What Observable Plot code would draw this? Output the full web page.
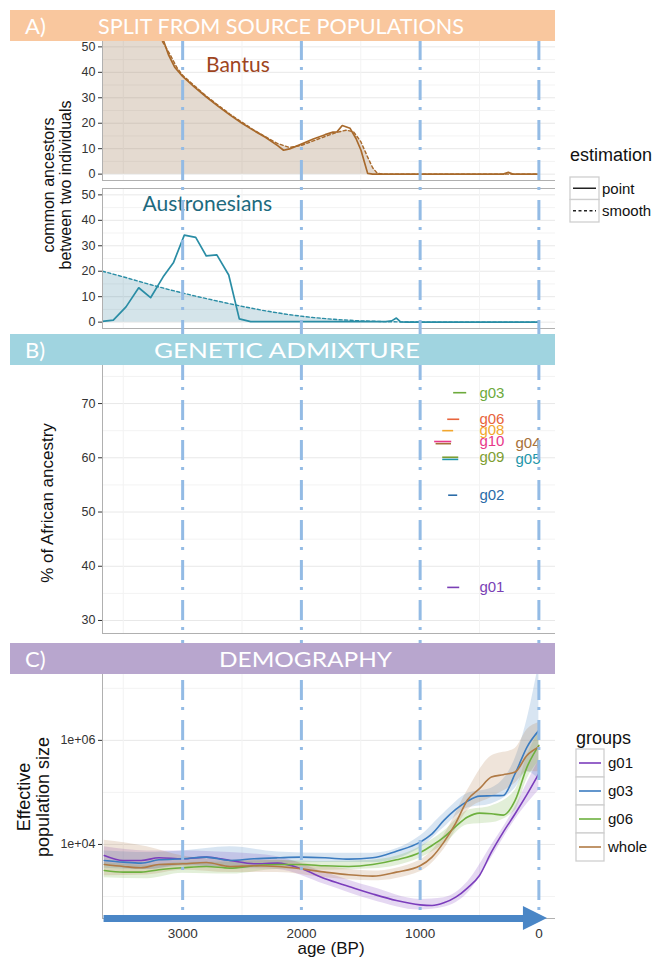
<!DOCTYPE html>
<html>
<head>
<meta charset="utf-8">
<script src="https://cdn.jsdelivr.net/npm/d3@7"></script>
<script src="https://cdn.jsdelivr.net/npm/@observablehq/plot@0.6"></script>
<style>
html,body{margin:0;padding:0;background:#fff;}
#fig{position:relative;width:661px;height:957px;overflow:hidden;background:#fff;}
</style>
</head>
<body>
<div id="fig"></div>
<script>
// ---------------- data ----------------
const xTicks = [3000, 2000, 1000, 0];
const xMinor = [3500, 2500, 1500, 500];
const countTicks = [0, 10, 20, 30, 40, 50];
const countMinor = [5, 15, 25, 35, 45];
const pctTicks = [30, 40, 50, 60, 70];
const pctMinor = [35, 45, 55, 65, 75];
const neTicks = [1e4, 1e6];
const neMinor = [1e3, 1e5, 1e7];

// A) Bantus
const bantusPointAge = [3675, 3400, 3200, 3160, 3120, 3067, 3000, 2900, 2800, 2700, 2600, 2500, 2400, 2300, 2200, 2150, 2100, 2000, 1900, 1800, 1734, 1700, 1656, 1590, 1540, 1498, 1442, 1400, 300, 257, 220, 0];
const bantusPoint    = [80, 66, 55.5, 52.3, 47, 42, 38.4, 34.2, 30.3, 26.6, 23.2, 20, 17.1, 14.4, 11.2, 9.4, 9.9, 11.8, 13.8, 15.5, 16.5, 16.6, 19.1, 18, 14, 9.4, 0.3, 0, 0, 0.7, 0, 0];
const bantusSmoothAge = [3675, 3300, 3150, 3100, 3050, 3000, 2800, 2600, 2400, 2200, 2100, 2000, 1800, 1700, 1620, 1560, 1500, 1440, 1400, 1360, 1300, 0];
const bantusSmooth    = [80, 62, 50.5, 46.5, 42, 38.8, 30.6, 23.5, 17.3, 12, 10.5, 11.3, 14.8, 16.4, 17.3, 16.6, 12.8, 6.5, 2.5, 0.3, 0, 0];
// A) Austronesians
const austroPointAge = [3675, 3584, 3477, 3370, 3270, 3164, 3078, 2986, 2890, 2801, 2712, 2612, 2523, 2427, 1290, 1240, 1200, 1165, 1100, 0];
const austroPoint    = [0.3, 0.8, 6, 13.5, 9.6, 17.8, 23.3, 34.2, 33.3, 26, 26.4, 18.5, 1.3, 0.2, 0.2, 0.5, 1.6, 0.1, 0, 0];
const austroSmoothAge = [3675, 3500, 3300, 3100, 2900, 2700, 2500, 2300, 2100, 1900, 1700, 1500, 1300, 1100, 900, 0];
const austroSmooth    = [20, 17.8, 15.1, 12.6, 10.3, 8.2, 6.2, 4.4, 2.9, 1.8, 1.0, 0.5, 0.2, 0.05, 0, 0];

// B) admixture (drawing order)
const admixGroup = ["g01", "g02", "g03", "g04", "g06", "g08", "g09", "g05", "g10"];
const admixPct   = [36.1, 53.1, 72.0, 62.6, 67.1, 65.0, 60.1, 59.7, 63.0];
const admixFrom  = [772, 764, 722, 870, 772, 814, 814, 814, 882];
const admixTo    = [671, 688, 612, 740, 671, 722, 679, 679, 738];
const admixLabelAge = [501, 501, 501, 197, 501, 501, 501, 197, 501];
const admixColor = ["#7A3FB5", "#2B6CA8", "#6DAA3C", "#A6713A", "#E8643C", "#F2A72E", "#7E9E32", "#1E96AA", "#E8388A"];
const admixLabelOrder = ["g08", "g01", "g02", "g03", "g04", "g09", "g05", "g06", "g10"];

// C) demography
const demoAge = [3660, 3500, 3350, 3200, 3000, 2800, 2600, 2400, 2200, 2000, 1800, 1600, 1400, 1200, 1000, 900, 800, 700, 600, 500, 400, 300, 200, 100, 0];
const neG01   = [6140, 4920, 4920, 5540, 5300, 5710, 4920, 4250, 4380, 3400, 2190, 1560, 1120, 838, 692, 671, 755, 971, 1470, 2540, 7120, 17300, 38900, 91500, 229000];
const neG03   = [4920, 4570, 4380, 5070, 5300, 5710, 4920, 5300, 5540, 5710, 5540, 5220, 5540, 7440, 11100, 16000, 29000, 47100, 68100, 85000, 86300, 87500, 229000, 745000, 1556000];
const neG06   = [3160, 2940, 2940, 3260, 3560, 3780, 3510, 3890, 4120, 4120, 3890, 3780, 4120, 5070, 7020, 9570, 13800, 22200, 33600, 40000, 38900, 36600, 70200, 307000, 800000];
const neWhole = [4120, 3780, 3560, 4120, 4250, 4510, 3780, 3890, 3780, 3400, 2940, 2610, 2460, 2940, 3890, 5710, 11100, 25700, 72300, 118000, 197000, 219000, 246000, 515000, 745000];
const bandAge = [3660, 3300, 3000, 2600, 2200, 1800, 1400, 1000, 800, 600, 400, 200, 100, 0];
const loG01   = [4000, 3300, 4000, 3500, 3300, 1700, 850, 550, 620, 1150, 5500, 30000, 60000, 110000];
const hiG01   = [9000, 7500, 7500, 7000, 5800, 2900, 1500, 880, 950, 1900, 9500, 52000, 150000, 420000];
const loG03   = [3500, 3300, 3800, 3800, 4300, 4500, 4500, 8500, 21000, 50000, 60000, 120000, 250000, 180000];
const hiG03   = [7500, 7000, 7500, 9000, 7200, 6800, 6800, 14500, 40000, 95000, 120000, 450000, 2500000, 30000000];
const loG06   = [2300, 2200, 2800, 2700, 3300, 3200, 3400, 5500, 10000, 24000, 26000, 45000, 180000, 400000];
const hiG06   = [4500, 4000, 4500, 4600, 5000, 4700, 5000, 9000, 18000, 45000, 55000, 110000, 500000, 1500000];
const loWhole = [2500, 2600, 3200, 2900, 2900, 2300, 2000, 3000, 8000, 45000, 80000, 150000, 250000, 250000];
const hiWhole = [12000, 9000, 6000, 5000, 5000, 3800, 3100, 5000, 15000, 110000, 500000, 700000, 1600000, 2200000];
const groups = ["g01", "g03", "g06", "whole"];
const groupColor = ["#7B3DBC", "#3C7CC0", "#6DB03E", "#B07A45"];

const estimation = ["point", "smooth"];
const panelLetters = ["A)", "B)", "C)"];
const panelTitles = ["SPLIT FROM SOURCE POPULATIONS", "GENETIC ADMIXTURE", "DEMOGRAPHY"];

// ---------------- layout ----------------
const W = 661, H = 957;
const X_DOMAIN = [3675, -140];
const ML = 102, MR = W - 555;
const BROWN = "#A8692B", TEAL = "#2A8DA5";
const GRID = "#e8e8e8", GRIDMINOR = "#f3f3f3", AXISLINE = "#b0b0b0";
const FONT = "Liberation Sans, Arial, sans-serif";
const fig = document.getElementById("fig");
function place(el, top, z) {
  el.style.position = "absolute"; el.style.left = "0px"; el.style.top = top + "px"; el.style.zIndex = z;
  fig.appendChild(el);
}
const common = {
  width: W, marginLeft: ML, marginRight: MR,
  x: {domain: X_DOMAIN, axis: null},
  style: {background: "transparent", fontFamily: FONT, fontSize: "12.5px", color: "#333", overflow: "visible"}
};
const rows = (xs, ys) => xs.map((a, i) => ({age: a, v: ys[i]}));

// Panel A facets
function countPanel(pointData, smoothData, color, fillColor, fillOp, name, nameX, nameY, nameColor, topLine) {
  return Plot.plot({
    ...common, height: 160, marginTop: 10, marginBottom: 10,
    y: {domain: [-2.5, 52.5]},
    marks: [
      Plot.ruleY(countMinor, {stroke: GRIDMINOR}),
      Plot.ruleY(countTicks, {stroke: GRID}),
      Plot.ruleX(xMinor, {stroke: GRIDMINOR}),
      Plot.areaY(smoothData, {x: "age", y: "v", fill: fillColor, fillOpacity: fillOp, clip: true}),
      Plot.line(pointData, {x: "age", y: "v", stroke: color, strokeWidth: 1.7, clip: true}),
      Plot.line(smoothData, {x: "age", y: "v", stroke: color, strokeWidth: 1.4, strokeDasharray: "3,2.5", clip: true}),
      Plot.ruleX([X_DOMAIN[0]], {stroke: AXISLINE}),
      Plot.ruleY([-2.5], {stroke: AXISLINE}),
      Plot.ruleY([52.5], {stroke: topLine ? AXISLINE : "none"}),
      Plot.axisY(countTicks, {tickSize: 4, tickPadding: 3, label: null, fontSize: 12.5}),
      Plot.text([name], {x: nameX, y: nameY, fill: nameColor, fontSize: 21, fontFamily: "Lato, Open Sans, sans-serif", textAnchor: "middle"})
    ]
  });
}
place(countPanel(rows(bantusPointAge, bantusPoint), rows(bantusSmoothAge, bantusSmooth), BROWN, "#9C7550", 0.27, "Bantus", 2535, 42.6, "#9E451E", false), 30, 1);
place(countPanel(rows(austroPointAge, austroPoint), rows(austroSmoothAge, austroSmooth), TEAL, "#2A7A94", 0.2, "Austronesians", 2792, 46.5, "#1D6A7E", true), 178, 1);

// Panel B
const admix = admixGroup.map((g, i) => ({g, pct: admixPct[i], from: admixFrom[i], to: admixTo[i], lab: admixLabelAge[i], color: admixColor[i]}));
const admixLabels = admixLabelOrder.map(g => admix.find(d => d.g === g));
const B = Plot.plot({
  ...common, height: 289, marginTop: 10, marginBottom: 10,
  y: {domain: [27.6, 77.2]},
  marks: [
    Plot.ruleY(pctMinor, {stroke: GRIDMINOR}),
    Plot.ruleY(pctTicks, {stroke: GRID}),
    Plot.ruleX(xMinor, {stroke: GRIDMINOR}),
    Plot.ruleX([X_DOMAIN[0]], {stroke: AXISLINE}),
    Plot.ruleY([27.6], {stroke: AXISLINE}),
    Plot.axisY(pctTicks, {tickSize: 4, tickPadding: 3, label: null, fontSize: 12.5}),
    Plot.link(admix, {x1: "from", x2: "to", y1: "pct", y2: "pct", stroke: "color", strokeWidth: 1.6}),
    Plot.text(admixLabels, {x: "lab", y: "pct", text: "g", fill: "color", fontSize: 15, textAnchor: "start"})
  ]
});
place(B, 354, 1);

// Panel C
const demo = [];
const bands = [];
const neSeries = [neG01, neG03, neG06, neWhole];
const loSeries = [loG01, loG03, loG06, loWhole];
const hiSeries = [hiG01, hiG03, hiG06, hiWhole];
groups.forEach((g, k) => {
  demoAge.forEach((a, i) => demo.push({g, age: a, ne: neSeries[k][i]}));
  bandAge.forEach((a, i) => bands.push({g, age: a, lo: loSeries[k][i], hi: hiSeries[k][i]}));
});
const NE_DOMAIN = [378, 2.2e7];
const arrowHead = [{age: 130, lo: 222, hi: 643}, {age: -73, lo: NE_DOMAIN[0], hi: NE_DOMAIN[0]}];
const C = Plot.plot({
  ...common, height: 297, marginTop: 10, marginBottom: 39,
  y: {type: "log", domain: NE_DOMAIN},
  color: {domain: groups, range: groupColor},
  marks: [
    Plot.ruleY(neMinor, {stroke: GRIDMINOR}),
    Plot.ruleY(neTicks, {stroke: GRID}),
    Plot.ruleX(xMinor, {stroke: GRIDMINOR}),
    Plot.areaY(bands, {x: "age", y1: "lo", y2: "hi", z: "g", fill: "g", fillOpacity: 0.2, curve: "monotone-x", clip: true}),
    Plot.line(demo, {x: "age", y: "ne", z: "g", stroke: "g", strokeWidth: 1.6, curve: "monotone-x", clip: true}),
    Plot.ruleX([X_DOMAIN[0]], {stroke: AXISLINE}),
    Plot.ruleY([NE_DOMAIN[0]], {stroke: AXISLINE}),
    Plot.axisY(neTicks, {tickSize: 4, tickPadding: 3, label: null, fontSize: 12.5,
      tickFormat: d => "1e+" + String(Math.round(Math.log10(d))).padStart(2, "0")}),
    Plot.axisX(xTicks, {tickSize: 0, tickPadding: 10, label: null, fontSize: 13.5, tickFormat: d => String(d)}),
    Plot.link([{a: 3666, b: 130}], {x1: "a", x2: "b", y1: NE_DOMAIN[0], y2: NE_DOMAIN[0], stroke: "#4A86C6", strokeWidth: 7}),
    Plot.areaY(arrowHead, {x: "age", y1: "lo", y2: "hi", fill: "#4A86C6"})
  ]
});
place(C, 660, 1);

// dashed vertical reference lines through all panels
const V = Plot.plot({
  width: W, height: H, marginLeft: ML, marginRight: MR, marginTop: 0, marginBottom: 0,
  x: {domain: X_DOMAIN, axis: null}, y: {domain: [H, 0], axis: null},
  style: {background: "transparent", pointerEvents: "none"},
  marks: [Plot.ruleX(xTicks, {y1: 40, y2: 918, stroke: "#93BBE5", strokeWidth: 3, strokeDasharray: "20,7,3,10"})]
});
place(V, 0, 2);

// headers, axis titles, legends
const svg = d3.create("svg").attr("width", W).attr("height", H).style("font-family", FONT);
const headerTop = [10, 334, 643];
const headerColor = ["#F9C79E", "#A0D4E0", "#B8A6CE"];
const titleX = [98, 154, 219], titleLen = [366, 266, 173];
panelLetters.forEach((L, i) => {
  svg.append("rect").attr("x", 10).attr("y", headerTop[i]).attr("width", 545).attr("height", 31).attr("fill", headerColor[i]);
  svg.append("text").attr("x", 25).attr("y", headerTop[i] + 24).attr("fill", "#fff").attr("font-family", "Lato, Open Sans, sans-serif").attr("font-size", 22).text(L);
  svg.append("text").attr("x", titleX[i]).attr("y", headerTop[i] + 24).attr("fill", "#fff").attr("font-family", "Lato, Open Sans, sans-serif").attr("font-size", 22)
    .attr("textLength", titleLen[i]).attr("lengthAdjust", "spacingAndGlyphs").text(panelTitles[i]);
});
function vlabel(text, cx, cy, size) {
  svg.append("text").attr("transform", `translate(${cx},${cy}) rotate(-90)`).attr("text-anchor", "middle").attr("dy", "0.35em")
    .attr("font-size", size).attr("fill", "#111").text(text);
}
vlabel("common ancestors", 48, 185, 16);
vlabel("between two individuals", 65, 185, 16);
vlabel("% of African ancestry", 47, 503, 17);
vlabel("Effective", 24, 797, 18);
vlabel("population size", 43, 797, 18);
svg.append("text").attr("x", 331).attr("y", 954).attr("text-anchor", "middle").attr("font-size", 17).attr("fill", "#111").text("age (BP)");

// legend A
svg.append("text").attr("x", 570).attr("y", 161).attr("font-size", 18).attr("fill", "#111").text("estimation");
const estDash = ["none", "3,2.5"];
estimation.forEach((lab, i) => {
  const y0 = 177 + i * 22.5;
  svg.append("rect").attr("x", 570).attr("y", y0).attr("width", 29).attr("height", 22.5).attr("fill", "#fff").attr("stroke", "#cfcfcf").attr("stroke-width", 1.3);
  svg.append("line").attr("x1", 573).attr("x2", 596).attr("y1", y0 + 11.25).attr("y2", y0 + 11.25).attr("stroke", "#222").attr("stroke-width", 1.5).attr("stroke-dasharray", estDash[i]);
  svg.append("text").attr("x", 602).attr("y", y0 + 11.25).attr("dy", "0.35em").attr("font-size", 15).attr("fill", "#111").text(lab);
});
// legend C
svg.append("text").attr("x", 576).attr("y", 744).attr("font-size", 18).attr("fill", "#111").text("groups");
groups.forEach((g, i) => {
  const y0 = 749 + i * 28;
  svg.append("rect").attr("x", 576).attr("y", y0).attr("width", 28).attr("height", 28).attr("fill", "#fff").attr("stroke", "#cfcfcf").attr("stroke-width", 1.3);
  svg.append("line").attr("x1", 579).attr("x2", 601).attr("y1", y0 + 14).attr("y2", y0 + 14).attr("stroke", groupColor[i]).attr("stroke-width", 1.6);
  svg.append("text").attr("x", 608).attr("y", y0 + 14).attr("dy", "0.35em").attr("font-size", 15).attr("fill", "#111").text(g);
});
place(svg.node(), 0, 3);
</script>
</body>
</html>
